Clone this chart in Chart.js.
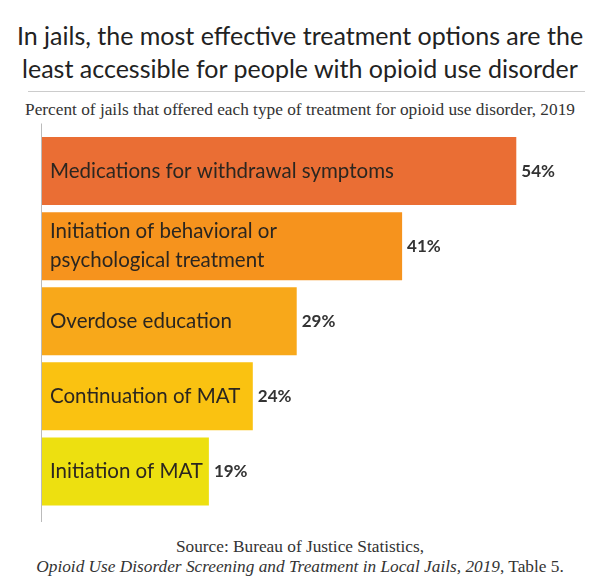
<!DOCTYPE html>
<html>
<head>
<meta charset="utf-8">
<script src="https://cdn.jsdelivr.net/npm/chart.js@4/dist/chart.umd.min.js"></script>
<style>
  html, body { margin: 0; padding: 0; background: #fff; }
  #page { position: relative; width: 600px; height: 588px; overflow: hidden; }
  #title {
    position: absolute; left: 0; top: 19px; width: 600px; text-align: center;
    font-family: Lato, sans-serif; font-size: 25px; line-height: 33px; color: #222;
  }
  #rule { position: absolute; left: 28px; top: 91px; width: 557px; height: 1px; background: #ccc; }
  #subtitle {
    position: absolute; left: 0; top: 100px; width: 600px; text-align: center;
    font-family: "Liberation Serif", serif; font-size: 17.3px; color: #333;
  }
  #source {
    position: absolute; left: 0; top: 537px; width: 600px; text-align: center;
    font-family: "Liberation Serif", serif; font-size: 17.3px; line-height: 20px; color: #333;
  }
  #wrap { position: absolute; left: 0; top: 120px; width: 600px; height: 410px; }
</style>
</head>
<body>
<div id="page">
  <div id="title">In jails, the most effective treatment options are the<br>least accessible for people with opioid use disorder</div>
  <div id="rule"></div>
  <div id="subtitle">Percent of jails that offered each type of treatment for opioid use disorder, 2019</div>
  <div id="wrap"><canvas id="chart"></canvas></div>
  <div id="source">Source: Bureau of Justice Statistics,<br><i>Opioid Use Disorder Screening and Treatment in Local Jails, 2019</i>, Table 5.</div>
</div>
<script>
const categories = [
  ["Medications for withdrawal symptoms"],
  ["Initiation of behavioral or", "psychological treatment"],
  ["Overdose education"],
  ["Continuation of MAT"],
  ["Initiation of MAT"]
]
const values = [54, 41, 29, 24, 19]
const barColors = ["#EA6E34", "#F6931D", "#F8A81A", "#FAC211", "#EDE010"]

// Draw category text inside each bar and the value just past its end
const barText = {
  id: "barText",
  afterDatasetsDraw(chart) {
    const ctx = chart.ctx
    const meta = chart.getDatasetMeta(0)
    ctx.save()
    ctx.textBaseline = "middle"
    meta.data.forEach((bar, i) => {
      const lines = categories[i]
      const lh = 29
      ctx.fillStyle = "#2b2620"
      ctx.font = "20.5px Lato, sans-serif"
      ctx.textAlign = "left"
      lines.forEach((line, j) => {
        const y = bar.y + (j - (lines.length - 1) / 2) * lh
        ctx.fillText(line, chart.chartArea.left + 8, y)
      })
      ctx.fillStyle = "#333"
      ctx.font = "bold 17px Lato, sans-serif"
      ctx.fillText(values[i] + "%", bar.x + 5, bar.y)
    })
    ctx.restore()
  }
}

// Thin vertical axis line that runs a little past the bars
const axisLine = {
  id: "axisLine",
  afterDatasetsDraw(chart) {
    const { ctx, chartArea } = chart
    ctx.save()
    ctx.strokeStyle = "#bbb"
    ctx.lineWidth = 1
    ctx.beginPath()
    ctx.moveTo(chartArea.left - 0.5, chartArea.top - 10)
    ctx.lineTo(chartArea.left - 0.5, chartArea.bottom + 13)
    ctx.stroke()
    ctx.restore()
  }
}

new Chart(document.getElementById("chart"), {
  type: "bar",
  data: {
    labels: categories.map(c => c.join(" ")),
    datasets: [{
      data: values,
      backgroundColor: barColors,
      categoryPercentage: 1,
      barPercentage: 0.905,
      borderWidth: 0
    }]
  },
  options: {
    indexAxis: "y",
    responsive: true,
    maintainAspectRatio: false,
    animation: false,
    layout: { padding: { left: 42, right: 31, top: 13.5, bottom: 21 } },
    plugins: {
      legend: { display: false },
      tooltip: { enabled: false }
    },
    scales: {
      x: { display: false, min: 0, max: 60 },
      y: { display: false }
    }
  },
  plugins: [barText, axisLine]
})
</script>
</body>
</html>
